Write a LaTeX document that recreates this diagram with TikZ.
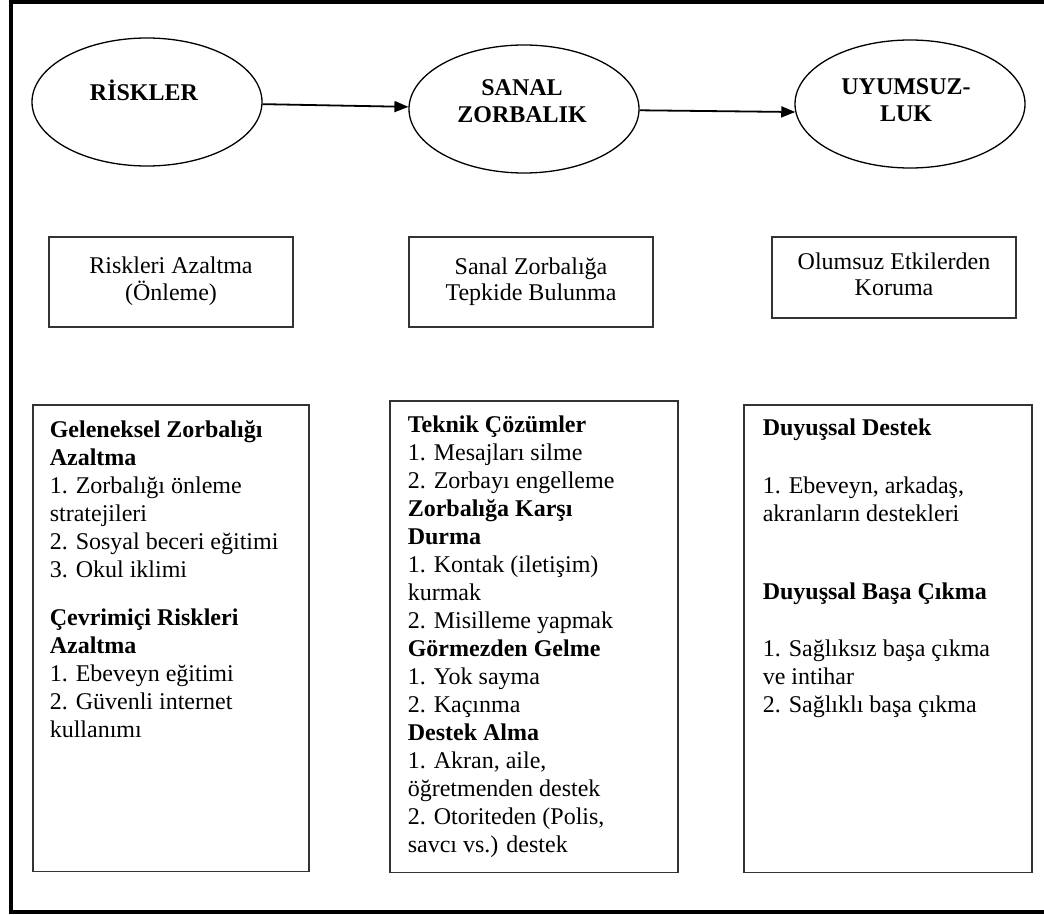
\documentclass[tikz,border=0pt]{standalone}
\usepackage{fontspec}
\setmainfont{Liberation Serif}
\usetikzlibrary{shapes.geometric, arrows.meta}

\begin{document}
\begin{tikzpicture}[x=1pt, y=-1pt,
      oval/.style={ellipse, draw, line width=1.3pt, minimum width=230pt, minimum height=128pt},
      head/.style={font=\fontsize{24}{27}\selectfont\bfseries},
      goal/.style={rectangle, draw=black!80, line width=1.6pt, minimum width=244pt, font=\fontsize{24}{26}\selectfont},
      list/.style={rectangle, draw=black!80, line width=1.6pt, anchor=north west, font=\fontsize{24}{28}\selectfont},
      flow/.style={-{Triangle[length=14pt, width=11pt]}, line width=1.8pt}]
      \useasboundingbox (0, 0) rectangle (1044, 915);
      \draw[line width=3.5pt] (1044, 2) -- (11, 2) -- (11, 912) -- (1044, 912);

      \node (R) [oval] at (147, 102) {};
      \node (S) [oval] at (524, 109) {};
      \node (U) [oval] at (910, 104) {};
      \node (Rt) [head] at (144, 94) {
        \begin{tabular}{c}
          RİSKLER
        \end{tabular}
      };
      \node (St) [head] at (522, 104) {
        \begin{tabular}{c}
          SANAL \\
          ZORBALIK
        \end{tabular}
      };
      \node (Ut) [head] at (906, 103) {
        \begin{tabular}{c}
          UYUMSUZ- \\
          LUK
        \end{tabular}
      };

      \draw[flow] (R) to (S);
      \draw[flow] (S) to (U.184);

      \node (D) [goal, minimum height=90pt] at (171, 282) {
        \begin{tabular}{c}
          Riskleri Azaltma \\
          (Önleme)
        \end{tabular}
      };
      \node (E) [goal, minimum height=90pt] at (531, 282) {
        \begin{tabular}{c}
          Sanal Zorbalığa \\
          Tepkide Bulunma
        \end{tabular}
      };
      \node (F) [goal, minimum height=81pt] at (894, 277.5) {
        \begin{tabular}{c}
          Olumsuz Etkilerden \\
          Koruma
        \end{tabular}
      };

      \node (G) [list, inner xsep=17pt, inner ysep=13.4pt] at (32, 404) {
        \parbox[t][440pt][t]{242pt}{%
          \begin{tabular}[t]{@{}l@{}}
            \textbf{Geleneksel Zorbalığı} \\
            \textbf{Azaltma} \\
            1. Zorbalığı önleme \\
            stratejileri \\
            2. Sosyal beceri eğitimi \\
            3. Okul iklimi \\[20pt]
            \textbf{Çevrimiçi Riskleri} \\
            \textbf{Azaltma} \\
            1. Ebeveyn eğitimi \\
            2. Güvenli internet \\
            kullanımı
          \end{tabular}}
      };
      \node (H) [list, inner xsep=18pt, inner ysep=12.4pt] at (389, 400) {
        \parbox[t][447pt][t]{252pt}{%
          \begin{tabular}[t]{@{}l@{}}
            \textbf{Teknik Çözümler} \\
            1. Mesajları silme \\
            2. Zorbayı engelleme \\
            \textbf{Zorbalığa Karşı} \\
            \textbf{Durma} \\
            1. Kontak (iletişim) \\
            kurmak \\
            2. Misilleme yapmak \\
            \textbf{Görmezden Gelme} \\
            1. Yok sayma \\
            2. Kaçınma \\
            \textbf{Destek Alma} \\
            1. Akran, aile, \\
            öğretmenden destek \\
            2. Otoriteden (Polis, \\
            savcı vs.) destek
          \end{tabular}}
      };
      \node (I) [list, inner xsep=19pt, inner ysep=11.4pt] at (743, 404) {
        \parbox[t][445pt][t]{250pt}{%
          \begin{tabular}[t]{@{}l@{}}
            \textbf{Duyuşsal Destek} \\[30pt]
            1. Ebeveyn, arkadaş, \\
            akranların destekleri \\[50pt]
            \textbf{Duyuşsal Başa Çıkma} \\[29pt]
            1. Sağlıksız başa çıkma \\
            ve intihar \\
            2. Sağlıklı başa çıkma
          \end{tabular}}
      };
    \end{tikzpicture}
\end{document}
